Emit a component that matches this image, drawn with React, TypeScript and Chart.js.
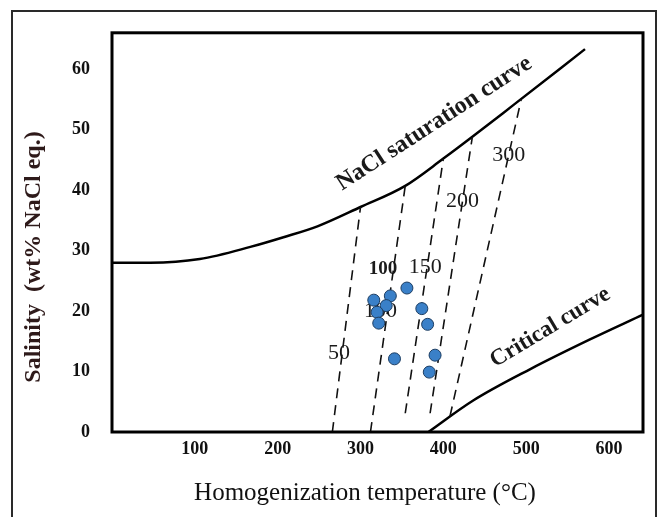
import React, { useEffect, useRef } from "react";
import { Chart, registerables } from "chart.js";

Chart.register(...registerables);

// ---- data ----
const xTicks = [100, 200, 300, 400, 500, 600];
const yTicks = [0, 10, 20, 30, 40, 50, 60];

const inclusionTemp = [356, 336, 316, 331, 320, 322, 374, 381, 341, 390, 383];
const inclusionSalinity = [23.8, 22.5, 21.8, 20.9, 19.8, 18.0, 20.4, 17.8, 12.1, 12.7, 9.9];

const saturationTemp = [0, 46, 106, 167, 207, 248, 300, 354, 400, 435, 484, 571];
const saturationSalinity = [28.0, 28.0, 28.6, 30.6, 32.2, 34.0, 37.2, 40.7, 45.2, 48.8, 54.0, 63.3];

const criticalTemp = [382, 436, 505, 577, 641];
const criticalSalinity = [0, 5.2, 10.4, 15.3, 19.4];

const isochoreNames = ["50", "100", "150", "200", "300"];
const isochoreTempLow = [266, 312, 354, 384, 408];
const isochoreSalLow = [0, 0, 3.1, 3.1, 2.6];
const isochoreTempHigh = [300, 354, 400, 435, 494];
const isochoreSalHigh = [37.2, 40.7, 45.2, 48.8, 55.0];

const SERIF = "'Liberation Serif', 'Times New Roman', serif";

type Lbl = { text: string; x: number; y: number; font: string; rot?: number; color?: string };

const isoLabels: Lbl[] = [
  { text: "50", x: 274, y: 13.0, font: `22px ${SERIF}` },
  { text: "100", x: 324, y: 20.0, font: `22px ${SERIF}` },
  { text: "100", x: 327, y: 27.0, font: `bold 19px ${SERIF}` },
  { text: "150", x: 378, y: 27.2, font: `22px ${SERIF}` },
  { text: "200", x: 423, y: 38.2, font: `22px ${SERIF}` },
  { text: "300", x: 479, y: 45.7, font: `22px ${SERIF}` },
];

const curveLabels: Lbl[] = [
  { text: "NaCl saturation curve", x: 389, y: 51.0, font: `bold 24px ${SERIF}`, rot: -33 },
  { text: "Critical curve", x: 529, y: 17.3, font: `bold 23px ${SERIF}`, rot: -31 },
];

function drawLabel(ctx: CanvasRenderingContext2D, chart: any, l: Lbl) {
  const px = chart.scales.x.getPixelForValue(l.x);
  const py = chart.scales.y.getPixelForValue(l.y);
  ctx.save();
  ctx.translate(px, py);
  if (l.rot) ctx.rotate((l.rot * Math.PI) / 180);
  ctx.font = l.font;
  ctx.fillStyle = l.color || "#1a1a1a";
  ctx.textAlign = "center";
  ctx.textBaseline = "middle";
  ctx.fillText(l.text, 0, 0);
  ctx.restore();
}

const overlay = {
  id: "overlay",
  beforeDraw(chart: any) {
    const ctx = chart.ctx;
    ctx.save();
    ctx.fillStyle = "#ffffff";
    ctx.fillRect(0, 0, chart.width, chart.height);
    ctx.strokeStyle = "#2a2a2a";
    ctx.lineWidth = 2;
    ctx.strokeRect(12, 11, 644, 530);
    ctx.restore();
  },
  beforeDatasetsDraw(chart: any) {
    const ctx = chart.ctx;
    isoLabels.forEach((l) => drawLabel(ctx, chart, l));
  },
  afterDatasetsDraw(chart: any) {
    const ctx = chart.ctx;
    const a = chart.chartArea;
    ctx.save();
    ctx.strokeStyle = "#000";
    ctx.lineWidth = 3;
    ctx.strokeRect(a.left, a.top, a.right - a.left, a.bottom - a.top);
    ctx.restore();
    curveLabels.forEach((l) => drawLabel(ctx, chart, l));
  },
  afterDraw(chart: any) {
    const ctx = chart.ctx;
    ctx.save();
    ctx.fillStyle = "#2e1a1a";
    ctx.font = `bold 24px ${SERIF}`;
    ctx.textAlign = "center";
    ctx.textBaseline = "middle";
    ctx.translate(34, 257);
    ctx.rotate(-Math.PI / 2);
    ctx.fillText("Salinity  (wt% NaCl eq.)", 0, 0);
    ctx.restore();
    ctx.save();
    ctx.fillStyle = "#111";
    ctx.font = `25px ${SERIF}`;
    ctx.textAlign = "center";
    ctx.textBaseline = "middle";
    ctx.fillText("Homogenization temperature (\u00B0C)", 365, 493);
    ctx.restore();
  },
};

export default function App() {
  const ref = useRef<HTMLCanvasElement | null>(null);
  useEffect(() => {
    if (!ref.current) return;
    const line = (xs: number[], ys: number[]) => xs.map((x, i) => ({ x, y: ys[i] }));
    const datasets: any[] = [
      {
        label: "NaCl saturation curve",
        data: line(saturationTemp, saturationSalinity),
        showLine: true,
        borderColor: "#000",
        borderWidth: 2.5,
        pointRadius: 0,
        cubicInterpolationMode: "monotone",
        order: 3,
      },
      {
        label: "Critical curve",
        data: line(criticalTemp, criticalSalinity),
        showLine: true,
        borderColor: "#000",
        borderWidth: 2.5,
        pointRadius: 0,
        cubicInterpolationMode: "monotone",
        order: 3,
      },
      ...isochoreNames.map((n, i) => ({
        label: "Isochore " + n,
        data: [
          { x: isochoreTempLow[i], y: isochoreSalLow[i] },
          { x: isochoreTempHigh[i], y: isochoreSalHigh[i] },
        ],
        showLine: true,
        borderColor: "#111",
        borderWidth: 1.6,
        borderDash: [10, 7],
        pointRadius: 0,
        order: 2,
      })),
      {
        label: "Fluid inclusions",
        data: line(inclusionTemp, inclusionSalinity),
        showLine: false,
        pointRadius: 6,
        pointBackgroundColor: "#3a80c8",
        pointBorderColor: "#1d3e63",
        pointBorderWidth: 1,
        order: 1,
      },
    ];
    const chart = new Chart(ref.current, {
      type: "scatter",
      data: { datasets },
      options: {
        animation: false,
        responsive: false,
        maintainAspectRatio: false,
        layout: { padding: { left: 0, top: 26, right: 16, bottom: 0 } },
        plugins: { legend: { display: false }, tooltip: { enabled: false } },
        scales: {
          x: {
            type: "linear",
            min: 0,
            max: 641,
            grid: { display: false, drawTicks: false },
            border: { display: false },
            afterBuildTicks: (s: any) => {
              s.ticks = xTicks.map((v) => ({ value: v }));
            },
            afterFit: (s: any) => {
              s.height = 85;
            },
            ticks: {
              padding: 7,
              color: "#111",
              font: { family: SERIF, size: 18, weight: "bold" },
              maxRotation: 0,
            },
          },
          y: {
            type: "linear",
            min: 0,
            max: 66,
            grid: { display: false, drawTicks: false },
            border: { display: false },
            afterBuildTicks: (s: any) => {
              s.ticks = yTicks.map((v) => ({ value: v }));
            },
            afterFit: (s: any) => {
              s.width = 112;
            },
            ticks: {
              padding: 22,
              color: "#111",
              font: { family: SERIF, size: 18, weight: "bold" },
            },
          },
        },
      },
      plugins: [overlay],
    });
    return () => chart.destroy();
  }, []);
  return (
    <div style={{ position: "fixed", left: 0, top: 0, width: 659, height: 517, background: "#fff" }}>
      <canvas ref={ref} width={659} height={517} style={{ display: "block", width: 659, height: 517 }} />
    </div>
  );
}
